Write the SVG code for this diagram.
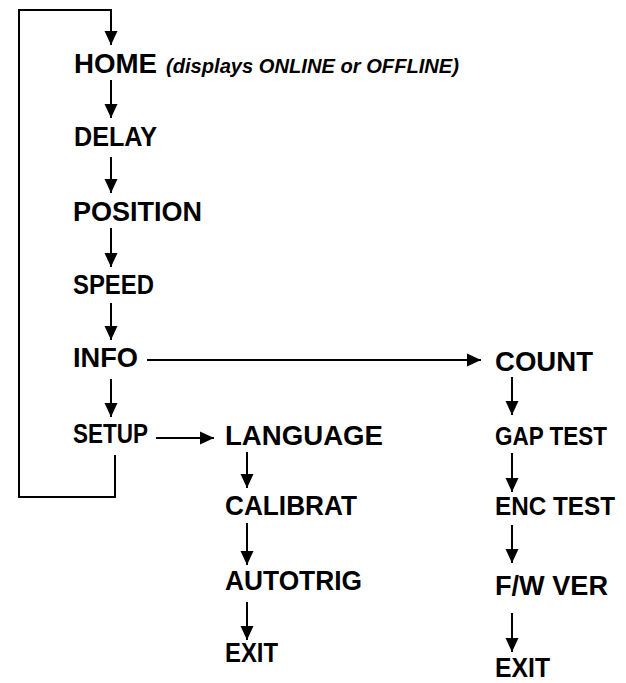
<svg xmlns="http://www.w3.org/2000/svg" width="626" height="683" viewBox="0 0 626 683">
<style>
  .t { font-family: "Liberation Sans", Arial, sans-serif; font-weight: bold; font-size: 27px; fill: #000; }
  .s { font-size: 25px; }
  .n { font-family: "Liberation Sans", Arial, sans-serif; font-weight: bold; font-style: italic; font-size: 20px; fill: #000; }
  .c { stroke: #000; stroke-width: 2; fill: none; }
</style>
<defs>
  <marker id="ah" markerUnits="userSpaceOnUse" markerWidth="14" markerHeight="14" refX="14" refY="7" orient="auto">
    <path d="M0,0.5 L14,7 L0,13.5 z" fill="#000"/>
  </marker>
</defs>
<rect width="626" height="683" fill="#fff"/>
<g id="connectors">
  <path class="c" d="M115,455 V497 H19 V10 H111 V45" marker-end="url(#ah)"/>
  <line class="c" x1="111" y1="80" x2="111" y2="118" marker-end="url(#ah)"/>
  <line class="c" x1="111" y1="157" x2="111" y2="193" marker-end="url(#ah)"/>
  <line class="c" x1="111" y1="228" x2="111" y2="267" marker-end="url(#ah)"/>
  <line class="c" x1="111" y1="303" x2="111" y2="340" marker-end="url(#ah)"/>
  <line class="c" x1="111" y1="379" x2="111" y2="417" marker-end="url(#ah)"/>
  <line class="c" x1="147" y1="360" x2="481" y2="360" marker-end="url(#ah)"/>
  <line class="c" x1="156" y1="438" x2="214" y2="438" marker-end="url(#ah)"/>
  <line class="c" x1="247" y1="452" x2="247" y2="488" marker-end="url(#ah)"/>
  <line class="c" x1="247" y1="523" x2="247" y2="565" marker-end="url(#ah)"/>
  <line class="c" x1="247" y1="602" x2="247" y2="640" marker-end="url(#ah)"/>
  <line class="c" x1="512" y1="377" x2="512" y2="415" marker-end="url(#ah)"/>
  <line class="c" x1="512" y1="453" x2="512" y2="492" marker-end="url(#ah)"/>
  <line class="c" x1="512" y1="525" x2="512" y2="563" marker-end="url(#ah)"/>
  <line class="c" x1="512" y1="613" x2="512" y2="652" marker-end="url(#ah)"/>
</g>
<g id="home">
  <text class="t" x="74" y="73" textLength="83" lengthAdjust="spacingAndGlyphs">HOME</text>
  <text class="n" x="166" y="73" textLength="293" lengthAdjust="spacingAndGlyphs">(displays ONLINE or OFFLINE)</text>
</g>
<g id="delay"><text class="t" x="74" y="146" textLength="83" lengthAdjust="spacingAndGlyphs">DELAY</text></g>
<g id="position"><text class="t" x="73" y="221" textLength="129" lengthAdjust="spacingAndGlyphs">POSITION</text></g>
<g id="speed"><text class="t" x="73" y="294" textLength="81" lengthAdjust="spacingAndGlyphs">SPEED</text></g>
<g id="info"><text class="t" x="73" y="367" textLength="65" lengthAdjust="spacingAndGlyphs">INFO</text></g>
<g id="setup"><text class="t" x="73" y="443" textLength="75" lengthAdjust="spacingAndGlyphs">SETUP</text></g>
<g id="language"><text class="t" x="225" y="445" textLength="158" lengthAdjust="spacingAndGlyphs">LANGUAGE</text></g>
<g id="calibrat"><text class="t" x="225" y="515" textLength="132" lengthAdjust="spacingAndGlyphs">CALIBRAT</text></g>
<g id="autotrig"><text class="t" x="225" y="590" textLength="137" lengthAdjust="spacingAndGlyphs">AUTOTRIG</text></g>
<g id="exit1"><text class="t" x="225" y="662" textLength="53" lengthAdjust="spacingAndGlyphs">EXIT</text></g>
<g id="count"><text class="t" x="495" y="371" textLength="98" lengthAdjust="spacingAndGlyphs">COUNT</text></g>
<g id="gaptest"><text class="t s" x="495" y="445" textLength="112" lengthAdjust="spacingAndGlyphs">GAP TEST</text></g>
<g id="enctest"><text class="t s" x="495" y="515" textLength="120" lengthAdjust="spacingAndGlyphs">ENC TEST</text></g>
<g id="fwver"><text class="t" x="495" y="595" textLength="113" lengthAdjust="spacingAndGlyphs">F/W VER</text></g>
<g id="exit2"><text class="t" x="495" y="677" textLength="55" lengthAdjust="spacingAndGlyphs">EXIT</text></g>
</svg>
